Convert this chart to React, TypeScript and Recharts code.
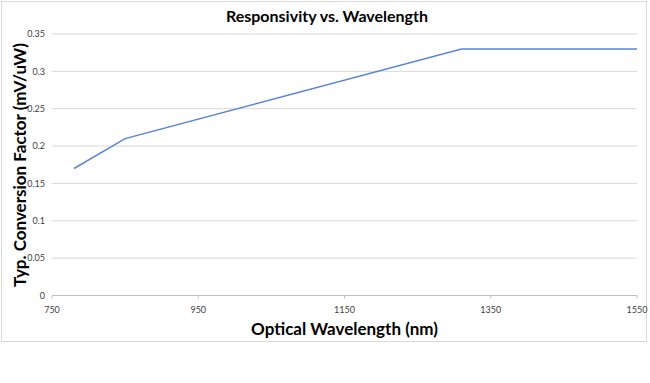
import React from 'react';
import { LineChart, Line, XAxis, YAxis, CartesianGrid } from 'recharts';

const wavelengths = [780, 850, 1310, 1550];
const factors = [0.17, 0.21, 0.33, 0.33];
const xTicks = [750, 950, 1150, 1350, 1550];
const yTicks = [0, 0.05, 0.1, 0.15, 0.2, 0.25, 0.3, 0.35];

const data = wavelengths.map((w, i) => ({ w, v: factors[i] }));

const FONT = 'Lato, "Liberation Sans", sans-serif';

export default function App() {
  return (
    <div style={{ position: 'absolute', left: 0, top: 0, width: 650, height: 383, background: '#fff', fontFamily: FONT }}>
      <div style={{ position: 'absolute', left: 1, top: 1, width: 646, height: 341, border: '1px solid #d9d9d9', boxSizing: 'border-box' }} />
      <LineChart width={650} height={383} data={data} margin={{ top: 34, right: 13, bottom: 0, left: 0 }} style={{ position: 'absolute', left: 0, top: 0 }}>
        <CartesianGrid horizontal={true} vertical={false} stroke="#d9d9d9" />
        <XAxis
          dataKey="w"
          type="number"
          domain={[750, 1550]}
          ticks={xTicks}
          height={87.5}
          stroke="#bfbfbf"
          tickSize={3}
          tickMargin={8}
          tick={{ fill: '#404040', fontSize: 9, fontFamily: FONT }}
        />
        <YAxis
          type="number"
          domain={[0, 0.35]}
          ticks={yTicks}
          width={52}
          axisLine={false}
          tickLine={false}
          tickSize={0}
          tickMargin={7}
          tick={{ fill: '#404040', fontSize: 9, fontFamily: FONT }}
        />
        <Line dataKey="v" stroke="#5a85d6" strokeWidth={1.5} dot={false} isAnimationActive={false} />
      </LineChart>
      <div style={{ position: 'absolute', left: 0, width: 650, top: 6, textAlign: 'center', paddingLeft: 2, fontSize: 16, fontWeight: 700, color: '#000' }}>
        Responsivity vs. Wavelength
      </div>
      <div style={{ position: 'absolute', left: 52, width: 585, top: 318, textAlign: 'center', fontSize: 17, fontWeight: 700, color: '#000' }}>
        Optical Wavelength (nm)
      </div>
      <div style={{ position: 'absolute', left: 20, top: 165, width: 0, height: 0 }}>
        <div style={{ position: 'absolute', left: -150, top: -11, width: 300, textAlign: 'center', transform: 'rotate(-90deg)', fontSize: 17, fontWeight: 700, color: '#000', whiteSpace: 'nowrap', lineHeight: '22px' }}>
          Typ. Conversion Factor (mV/uW)
        </div>
      </div>
    </div>
  );
}
